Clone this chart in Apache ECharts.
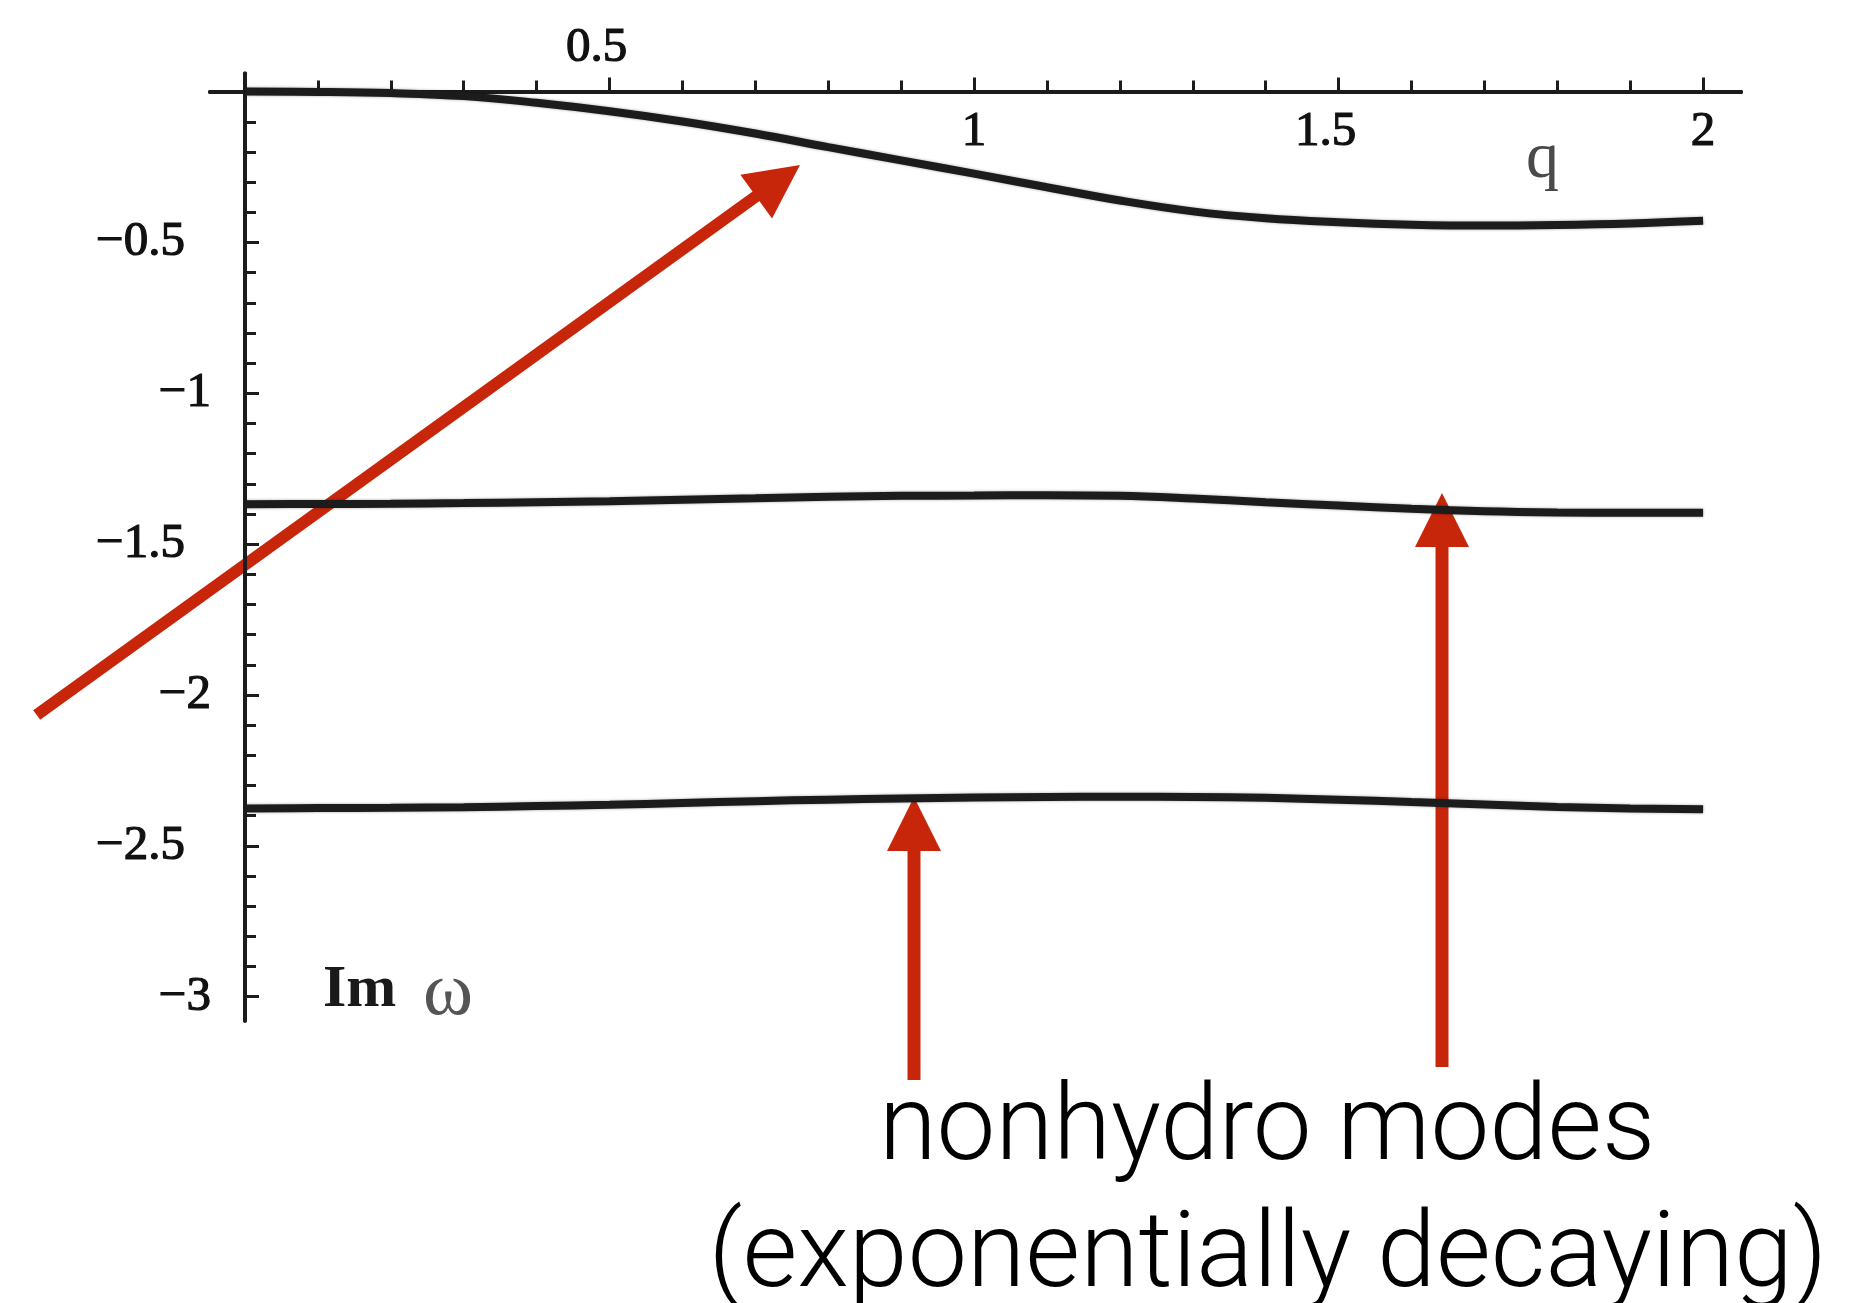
<!DOCTYPE html>
<html>
<head>
<meta charset="utf-8">
<script src="https://cdn.jsdelivr.net/npm/echarts@6/dist/echarts.min.js"></script>
<style>
  html, body { margin: 0; padding: 0; background: #fff; }
  #chart { width: 1856px; height: 1303px; }
</style>
</head>
<body>
<div id="chart"></div>
<script>
const qValues = [0, 0.1, 0.2, 0.3, 0.4, 0.5, 0.6, 0.7, 0.8, 0.9, 1.0,
  1.1, 1.2, 1.3, 1.4, 1.5, 1.6, 1.7, 1.8, 1.9, 2.0];
// Im w of the hydro mode (top curve)
const hydroMode = [0, -0.001, -0.005, -0.015, -0.037, -0.065, -0.099, -0.139, -0.184, -0.228, -0.272,
  -0.317, -0.361, -0.397, -0.420, -0.433, -0.441, -0.444, -0.442, -0.437, -0.428];
// first nonhydro mode
const nonHydro1 = [-1.368, -1.367, -1.366, -1.364, -1.361, -1.358, -1.353, -1.348, -1.343, -1.340, -1.339,
  -1.338, -1.340, -1.349, -1.361, -1.372, -1.383, -1.391, -1.395, -1.396, -1.396];
// second nonhydro mode
const nonHydro2 = [-2.376, -2.375, -2.374, -2.372, -2.368, -2.364, -2.358, -2.352, -2.347, -2.343, -2.340,
  -2.338, -2.337, -2.338, -2.341, -2.347, -2.355, -2.363, -2.371, -2.376, -2.379];

// ticks
const qMajorTicks = [0.5, 1, 1.5, 2];
const qMinorTicks = [0.1, 0.2, 0.3, 0.4, 0.6, 0.7, 0.8, 0.9, 1.1, 1.2, 1.3, 1.4, 1.6, 1.7, 1.8, 1.9];
const qLabelsBelow = [1, 1.5, 2];
const qLabelsAbove = [0.5];
const imMajorTicks = [-0.5, -1, -1.5, -2, -2.5, -3];
const imMinorTicks = [-0.1, -0.2, -0.3, -0.4, -0.6, -0.7, -0.8, -0.9, -1.1, -1.2, -1.3, -1.4,
  -1.6, -1.7, -1.8, -1.9, -2.1, -2.2, -2.3, -2.4, -2.6, -2.7, -2.8, -2.9];

// axis ranges (axes run a little past the origin like in the original plot)
const xMin = -0.048, xMax = 2.052;
const yMin = -3.08, yMax = 0.06;

const gridLeft = 210, gridWidth = 1531, gridTop = 73.5, gridHeight = 947.3;
// where the zero lines fall inside the grid
const zeroX = (0 - xMin) / (xMax - xMin) * gridWidth;
const zeroY = (yMax - 0) / (yMax - yMin) * gridHeight;

const ink = '#1c1c1c';
const red = '#c7260b';
const serif = '"Liberation Serif", "DejaVu Serif", serif';
const sans = '300 105px Roboto, "Liberation Sans", sans-serif';

const pairs = (ys) => qValues.map((q, i) => [q, ys[i]]);

const tokenStyle = { fontFamily: serif, fontSize: 49, color: '#111', textBorderColor: '#111', textBorderWidth: 1.2 };
const labelRich = {
  i: Object.assign({}, tokenStyle),
  d: Object.assign({ padding: [0, 26, 0, 0] }, tokenStyle)
};
const fmt = (v) => (Number.isInteger(v) ? '{i|' : '{d|') + String(v).replace('-', '\u2212') + '}';

const lineStyle = { color: ink, width: 4 };
const tickStyle = { color: ink, width: 3 };

const chart = echarts.init(document.getElementById('chart'), null, { renderer: 'canvas' });

const option = {
  animation: false,
  backgroundColor: '#fff',
  grid: { left: gridLeft, width: gridWidth, top: gridTop, height: gridHeight, containLabel: false },
  xAxis: [
    {
      type: 'value', position: 'bottom', offset: -(gridHeight - zeroY), min: xMin, max: xMax,
      axisLine: { show: true, onZero: false, lineStyle: lineStyle },
      axisTick: { show: true, customValues: qMinorTicks, inside: true, length: 11, lineStyle: tickStyle },
      axisLabel: { show: true, customValues: qLabelsBelow, margin: 16, formatter: fmt, rich: labelRich },
      splitLine: { show: false }
    },
    {
      type: 'value', position: 'top', offset: -zeroY, min: xMin, max: xMax,
      axisLine: { show: true, onZero: false, lineStyle: lineStyle },
      axisTick: { show: true, customValues: qMajorTicks, inside: false, length: 14, lineStyle: tickStyle },
      axisLabel: { show: true, customValues: qLabelsAbove, margin: 19, formatter: fmt, rich: labelRich },
      splitLine: { show: false }
    }
  ],
  yAxis: [
    {
      type: 'value', position: 'left', offset: -zeroX, min: yMin, max: yMax,
      axisLine: { show: true, onZero: false, lineStyle: lineStyle },
      axisTick: { show: true, customValues: imMinorTicks, inside: true, length: 11, lineStyle: tickStyle },
      axisLabel: { show: true, customValues: imMajorTicks, margin: 34, formatter: fmt, rich: labelRich },
      splitLine: { show: false }
    },
    {
      type: 'value', position: 'right', offset: -(gridWidth - zeroX), min: yMin, max: yMax,
      axisLine: { show: true, onZero: false, lineStyle: lineStyle },
      axisTick: { show: true, customValues: imMajorTicks, inside: false, length: 14, lineStyle: tickStyle },
      axisLabel: { show: false },
      splitLine: { show: false }
    }
  ],
  series: [hydroMode, nonHydro1, nonHydro2].map((ys) => ({
    type: 'line',
    xAxisIndex: 0,
    yAxisIndex: 0,
    data: pairs(ys),
    smooth: 0.4,
    showSymbol: false,
    silent: true,
    lineStyle: { color: ink, width: 8, shadowColor: 'rgba(0,0,0,0.35)', shadowBlur: 3 }
  })),
  graphic: [
    // axis names
    { type: 'text', left: 1526, top: 127, style: { text: 'q', font: '66px ' + serif, fill: '#4a4a4a' } },
    { type: 'text', left: 323, top: 960, style: { text: 'Im', font: 'bold 60px ' + serif, fill: '#1a1a1a' } },
    { type: 'text', left: 423, top: 956, style: { text: 'ω', font: '76px ' + serif, fill: '#555' } },
    // arrow to the hydro mode
    { type: 'line', shape: { x1: 36.7, y1: 715, x2: 762, y2: 192 }, style: { stroke: red, lineWidth: 12 } },
    { type: 'polygon', shape: { points: [[800, 165], [772, 218.5], [740.4, 174.7]] }, style: { fill: red } },
    // arrows to the nonhydro modes
    { type: 'line', shape: { x1: 914, y1: 1080, x2: 914, y2: 845 }, style: { stroke: red, lineWidth: 13 } },
    { type: 'polygon', shape: { points: [[914, 797], [941, 851], [887, 851]] }, style: { fill: red } },
    { type: 'line', shape: { x1: 1442, y1: 1067, x2: 1442, y2: 541 }, style: { stroke: red, lineWidth: 13 } },
    { type: 'polygon', shape: { points: [[1442, 493], [1469, 547], [1415, 547]] }, style: { fill: red } },
    // caption
    { type: 'text', x: 1267, y: 1133, style: { text: 'nonhydro modes', font: sans, fill: '#000', align: 'center', verticalAlign: 'middle' } },
    { type: 'text', x: 1268, y: 1259, style: { text: '(exponentially decaying)', font: '300 106px Roboto, "Liberation Sans", sans-serif', fill: '#000', align: 'center', verticalAlign: 'middle' } }
  ]
};

chart.setOption(option);
</script>
</body>
</html>
